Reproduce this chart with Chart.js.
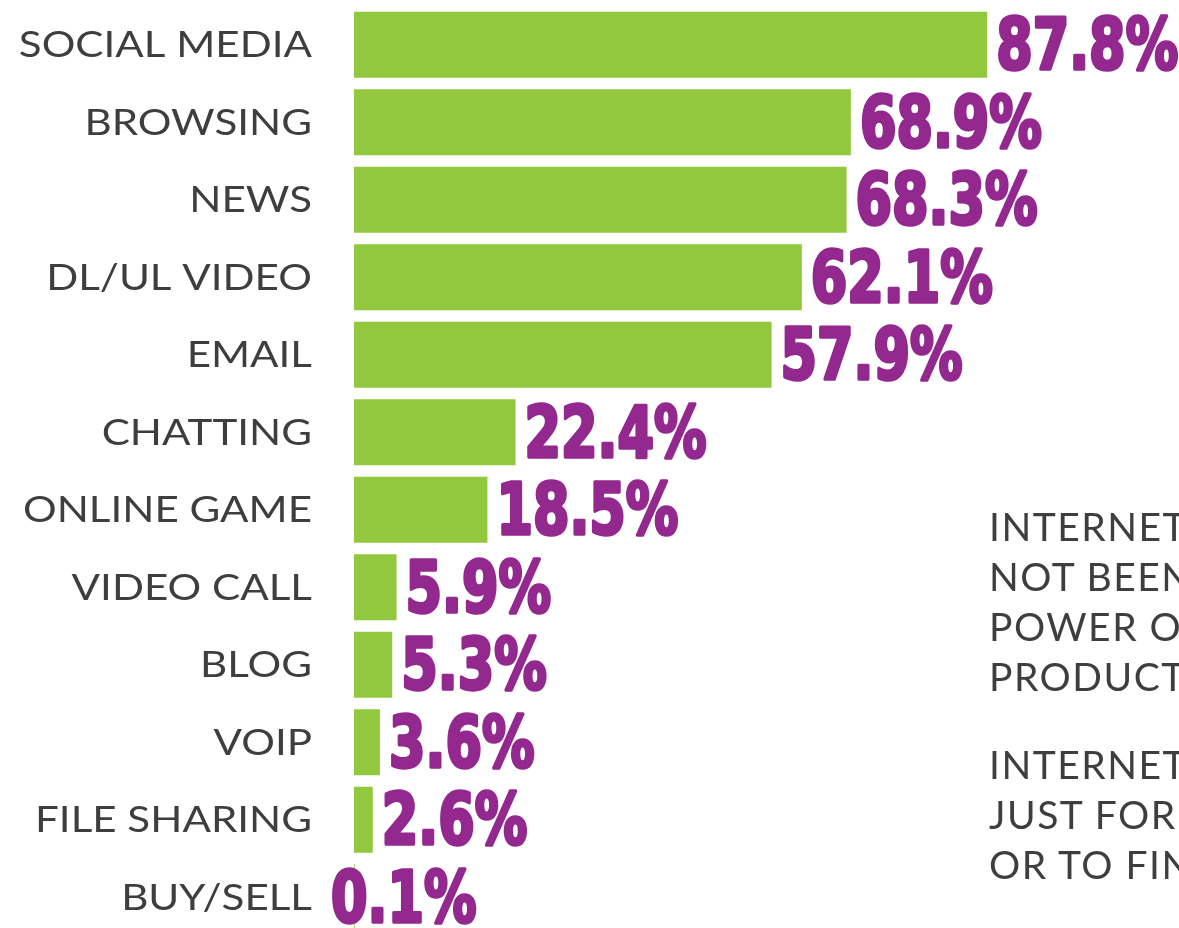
<!DOCTYPE html>
<html>
<head>
<meta charset="utf-8">
<script src="https://cdn.jsdelivr.net/npm/chart.js@4/dist/chart.umd.min.js"></script>
<style>
  html, body { margin: 0; padding: 0; background: #ffffff; overflow: hidden; }
  #wrap { position: relative; width: 1179px; height: 928px; overflow: hidden; }
  #wrap canvas { position: absolute; left: 0; top: 0; }
  .note {
    position: absolute; left: 989px; white-space: nowrap;
    font-family: Lato, "Open Sans", sans-serif; font-size: 39px;
    line-height: 50px; color: #3e3e3e; letter-spacing: 1.5px;
  }
</style>
</head>
<body>
<div id="wrap">
  <canvas id="chart" width="1179" height="940"></canvas>
  <div class="note" style="top:501px">INTERNET HAS<br>NOT BEEN USED<br>POWER OF<br>PRODUCTIVITY</div>
  <div class="note" style="top:739px">INTERNET IS<br>JUST FOR<br>OR TO FIND</div>
</div>
<script>
// Internet activities and share of users (%)
const categories = [
  "SOCIAL MEDIA", "BROWSING", "NEWS", "DL/UL VIDEO", "EMAIL", "CHATTING",
  "ONLINE GAME", "VIDEO CALL", "BLOG", "VOIP", "FILE SHARING", "BUY/SELL"
];
const shares = [87.8, 68.9, 68.3, 62.1, 57.9, 22.4, 18.5, 5.9, 5.3, 3.6, 2.6, 0.1];
const shareLabels = shares.map(v => v.toFixed(1) + "%");

const BAR_GREEN = "#92c83d";
const LABEL_PURPLE = "#93288f";
const TEXT_GREY = "#3e3e3e";

// Activity names, right-aligned against the axis at each category position
const categoryLabels = {
  id: "categoryLabels",
  afterDraw(chart) {
    const ctx = chart.ctx;
    const yScale = chart.scales.y;
    const right = yScale.right - 42;
    const stretch = 1.17;
    ctx.save();
    ctx.fillStyle = TEXT_GREY;
    ctx.textBaseline = "middle";
    ctx.textAlign = "right";
    ctx.font = "36px Lato, 'Open Sans', sans-serif";
    yScale.getLabels().forEach((label, i) => {
      const y = yScale.getPixelForTick(i);
      ctx.save();
      ctx.translate(right, y);
      ctx.scale(stretch, 1);
      ctx.fillText(label, 0, 1);
      ctx.restore();
    });
    ctx.restore();
  }
};

// Heavy percent labels drawn just past the end of each bar
const valueLabels = {
  id: "valueLabels",
  afterDatasetsDraw(chart) {
    const ctx = chart.ctx;
    const meta = chart.getDatasetMeta(0);
    const squeeze = 0.81;
    ctx.save();
    ctx.fillStyle = LABEL_PURPLE;
    ctx.strokeStyle = LABEL_PURPLE;
    ctx.lineWidth = 3.5;
    ctx.lineJoin = "round";
    ctx.textBaseline = "middle";
    ctx.textAlign = "left";
    ctx.font = "bold 72px 'DejaVu Sans Condensed', 'DejaVu Sans', sans-serif";
    meta.data.forEach((bar, i) => {
      // a near-zero bar has its label tucked under the axis start
      const x = shares[i] < 1 ? chart.chartArea.left - 23 : bar.x + 9;
      ctx.save();
      ctx.translate(x, bar.y + 6);
      ctx.scale(squeeze, 1);
      ctx.strokeText(shareLabels[i], 0, 0);
      ctx.fillText(shareLabels[i], 0, 0);
      ctx.restore();
    });
    ctx.restore();
  }
};

new Chart(document.getElementById("chart"), {
  type: "bar",
  data: {
    labels: categories,
    datasets: [{
      data: shares,
      backgroundColor: BAR_GREEN,
      borderWidth: 0,
      barPercentage: 0.85,
      categoryPercentage: 1.0
    }]
  },
  options: {
    indexAxis: "y",
    responsive: false,
    animation: false,
    layout: { padding: { top: 6, bottom: 4, left: 0, right: 0 } },
    plugins: {
      legend: { display: false },
      tooltip: { enabled: false }
    },
    scales: {
      x: {
        display: false,
        min: 0,
        max: 114.4
      },
      y: {
        afterFit(scale) {
          scale.width = 354;
          scale.paddingTop = 0;
          scale.paddingBottom = 0;
        },
        border: { display: false },
        grid: { display: false, drawTicks: false },
        ticks: { display: false, padding: 0 }
      }
    }
  },
  plugins: [valueLabels, categoryLabels]
});
</script>
</body>
</html>
